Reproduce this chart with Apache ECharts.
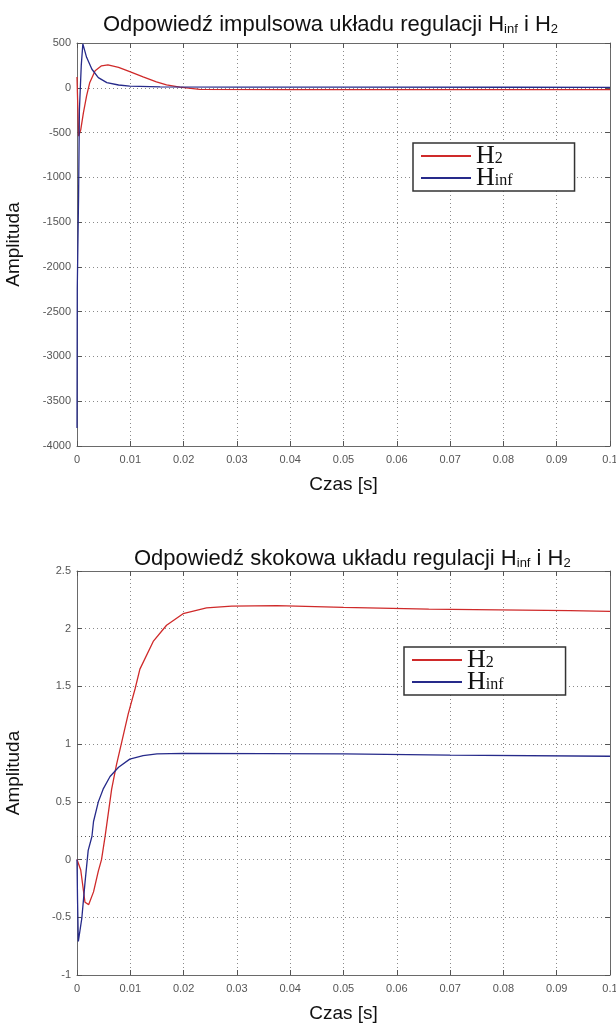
<!DOCTYPE html>
<html>
<head>
<meta charset="utf-8">
<script src="https://cdn.jsdelivr.net/npm/echarts@6/dist/echarts.min.js"></script>
<style>
html,body{margin:0;padding:0;background:#fff;}
#chart{width:616px;height:1026px;}
</style>
</head>
<body>
<div id="chart"></div>
<script>
// ---- data ----
const xTicks = [0, 0.01, 0.02, 0.03, 0.04, 0.05, 0.06, 0.07, 0.08, 0.09, 0.1];

// Impulse response
const impulseTimeH2 = [0, 0.0003, 0.0007, 0.0012, 0.0018, 0.0024, 0.0034, 0.0046, 0.0058, 0.0078, 0.0099, 0.0124, 0.0149, 0.0168, 0.0193, 0.023, 0.04, 0.06, 0.08, 0.1];
const impulseH2     = [120, -540, -470, -280, -90, 60, 190, 245, 255, 228, 180, 122, 66, 32, 8, -18, -20, -20, -20, -20];
const impulseTimeHinf = [0, 0.00005, 0.0003, 0.00045, 0.0008, 0.0011, 0.0018, 0.0028, 0.004, 0.0056, 0.0078, 0.0099, 0.0156, 0.03, 0.05, 0.082, 0.1];
const impulseHinf     = [-3800, -2250, -1200, -250, 250, 490, 340, 207, 113, 57, 31, 19, 11, 8, 8, 6, 5];

// Step response
const stepTimeH2 = [0, 0.0007, 0.0015, 0.0022, 0.0031, 0.004, 0.0046, 0.0053, 0.0065, 0.0074, 0.0084, 0.0096, 0.0109, 0.0118, 0.0143, 0.0168, 0.0199, 0.0243, 0.029, 0.0375, 0.05, 0.066, 0.079, 0.0925, 0.1];
const stepH2     = [0, -0.09, -0.37, -0.39, -0.28, -0.1, 0, 0.21, 0.61, 0.82, 1.02, 1.26, 1.48, 1.65, 1.89, 2.03, 2.13, 2.18, 2.195, 2.2, 2.185, 2.17, 2.163, 2.157, 2.15];
const stepTimeHinf = [0, 0.0001, 0.00025, 0.0009, 0.0015, 0.0021, 0.0028, 0.0031, 0.004, 0.0049, 0.0062, 0.0078, 0.0099, 0.0124, 0.015, 0.02, 0.05, 0.07, 0.1];
const stepHinf     = [0, -0.35, -0.71, -0.51, -0.2, 0.08, 0.2, 0.33, 0.5, 0.61, 0.72, 0.8, 0.87, 0.9, 0.915, 0.92, 0.915, 0.905, 0.895];
const stepRefLine = 0.2;

const seriesNames = ['H2', 'Hinf'];
const titles = [
  ['Odpowiedź impulsowa układu regulacji H', 'inf', ' i H', '2'],
  ['Odpowiedź skokowa układu regulacji H', 'inf', ' i H', '2']
];
const axisNames = { x: 'Czas [s]', y: 'Amplituda' };

// ---- chart ----
const RED = '#cf2a2a', BLUE = '#262a8a';
const FONT = 'Liberation Sans';
function pairs(t, v) { return t.map((x, i) => [x, v[i]]); }
const gridStyle = { show: true, lineStyle: { type: [1, 3], color: '#8a8a8a', width: 1 } };
const frameLine = { show: true, onZero: false, lineStyle: { color: '#6a6a6a', width: 1 } };

function mainX(gi) {
  return {
    type: 'value', gridIndex: gi, min: 0, max: 0.1, interval: 0.01,
    axisLine: frameLine,
    axisTick: { show: true, inside: true, length: 5, lineStyle: { color: '#555' } },
    axisLabel: { color: '#555', fontSize: 11, fontFamily: FONT, margin: 8,
      formatter: v => String(+v.toFixed(2)) },
    splitLine: gridStyle,
    name: axisNames.x, nameLocation: 'middle', nameGap: 29,
    nameTextStyle: { fontSize: 19, fontFamily: FONT, color: '#111' }
  };
}
function frameX(gi) {
  return { type: 'value', gridIndex: gi, position: 'top', min: 0, max: 0.1, interval: 0.01,
    axisLine: frameLine, axisTick: { show: true, inside: true, length: 5, lineStyle: { color: '#555' } },
    axisLabel: { show: false }, splitLine: { show: false } };
}
function mainY(gi, min, max, interval) {
  return {
    type: 'value', gridIndex: gi, min, max, interval,
    axisLine: frameLine,
    axisTick: { show: true, inside: true, length: 5, lineStyle: { color: '#555' } },
    axisLabel: { color: '#555', fontSize: 11, fontFamily: FONT, margin: 6, formatter: v => String(v) },
    splitLine: gridStyle,
    name: axisNames.y, nameLocation: 'middle', nameGap: 54, nameRotate: 90,
    nameTextStyle: { fontSize: 19, fontFamily: FONT, color: '#111' }
  };
}
function frameY(gi, min, max, interval) {
  return { type: 'value', gridIndex: gi, position: 'right', min, max, interval,
    axisLine: frameLine, axisTick: { show: true, inside: true, length: 5, lineStyle: { color: '#555' } },
    axisLabel: { show: false }, splitLine: { show: false } };
}
function titleOpt(parts, left, top) {
  return {
    text: `{a|${parts[0]}}{b|${parts[1]}}{a|${parts[2]}}{b|${parts[3]}}`,
    left, top,
    textStyle: { fontWeight: 'normal', rich: {
      a: { fontSize: 22, fontFamily: FONT, fontWeight: 'normal', color: '#111', verticalAlign: 'bottom', lineHeight: 26 },
      b: { fontSize: 13, fontFamily: FONT, fontWeight: 'normal', color: '#111', verticalAlign: 'bottom', lineHeight: 22 }
    } }
  };
}
function legendOpt(left, top) {
  return {
    left, top, orient: 'vertical', itemGap: -4, itemWidth: 50, itemHeight: 2,
    icon: 'rect',
    selectedMode: false, backgroundColor: '#fff', borderColor: '#333', borderWidth: 1.5,
    padding: [0, 62, 0, 8],
    data: seriesNames,
    formatter: n => `{h|H}{s|${n.slice(1)}}`,
    textStyle: { lineHeight: 22, rich: {
      h: { fontSize: 26, fontFamily: 'Liberation Serif', color: '#111', verticalAlign: 'bottom', lineHeight: 22, height: 22 },
      s: { fontSize: 16, fontFamily: 'Liberation Serif', color: '#111', verticalAlign: 'bottom', lineHeight: 18 }
    } }
  };
}
function line(name, color, xi, yi, data, extra) {
  return Object.assign({ name, type: 'line', xAxisIndex: xi, yAxisIndex: yi, data,
    symbol: 'none', showSymbol: false, animation: false, silent: true,
    itemStyle: { color }, lineStyle: { color, width: 1.3 } }, extra || {});
}

const option = {
  animation: false,
  backgroundColor: '#fff',
  title: [titleOpt(titles[0], 98, 5), titleOpt(titles[1], 129, 539)],
  grid: [
    { left: 77, right: 6, top: 43, height: 403, outerBoundsMode: 'none', containLabel: false },
    { left: 77, right: 6, top: 571, height: 404, outerBoundsMode: 'none', containLabel: false }
  ],
  xAxis: [mainX(0), frameX(0), mainX(1), frameX(1)],
  yAxis: [mainY(0, -4000, 500, 500), frameY(0, -4000, 500, 500), mainY(1, -1, 2.5, 0.5), frameY(1, -1, 2.5, 0.5)],
  legend: [legendOpt(413, 143), legendOpt(404, 647)],
  series: [
    line(seriesNames[0], RED, 0, 0, pairs(impulseTimeH2, impulseH2)),
    line(seriesNames[1], BLUE, 0, 0, pairs(impulseTimeHinf, impulseHinf)),
    line(seriesNames[0], RED, 2, 2, pairs(stepTimeH2, stepH2)),
    line(seriesNames[1], BLUE, 2, 2, pairs(stepTimeHinf, stepHinf), {
      markLine: { silent: true, symbol: 'none', label: { show: false },
        lineStyle: { type: [1, 3], color: '#555', width: 1 },
        data: [{ yAxis: stepRefLine }] }
    })
  ]
};
const chart = echarts.init(document.getElementById('chart'), null, { renderer: 'canvas' });
chart.setOption(option);
</script>
</body>
</html>
